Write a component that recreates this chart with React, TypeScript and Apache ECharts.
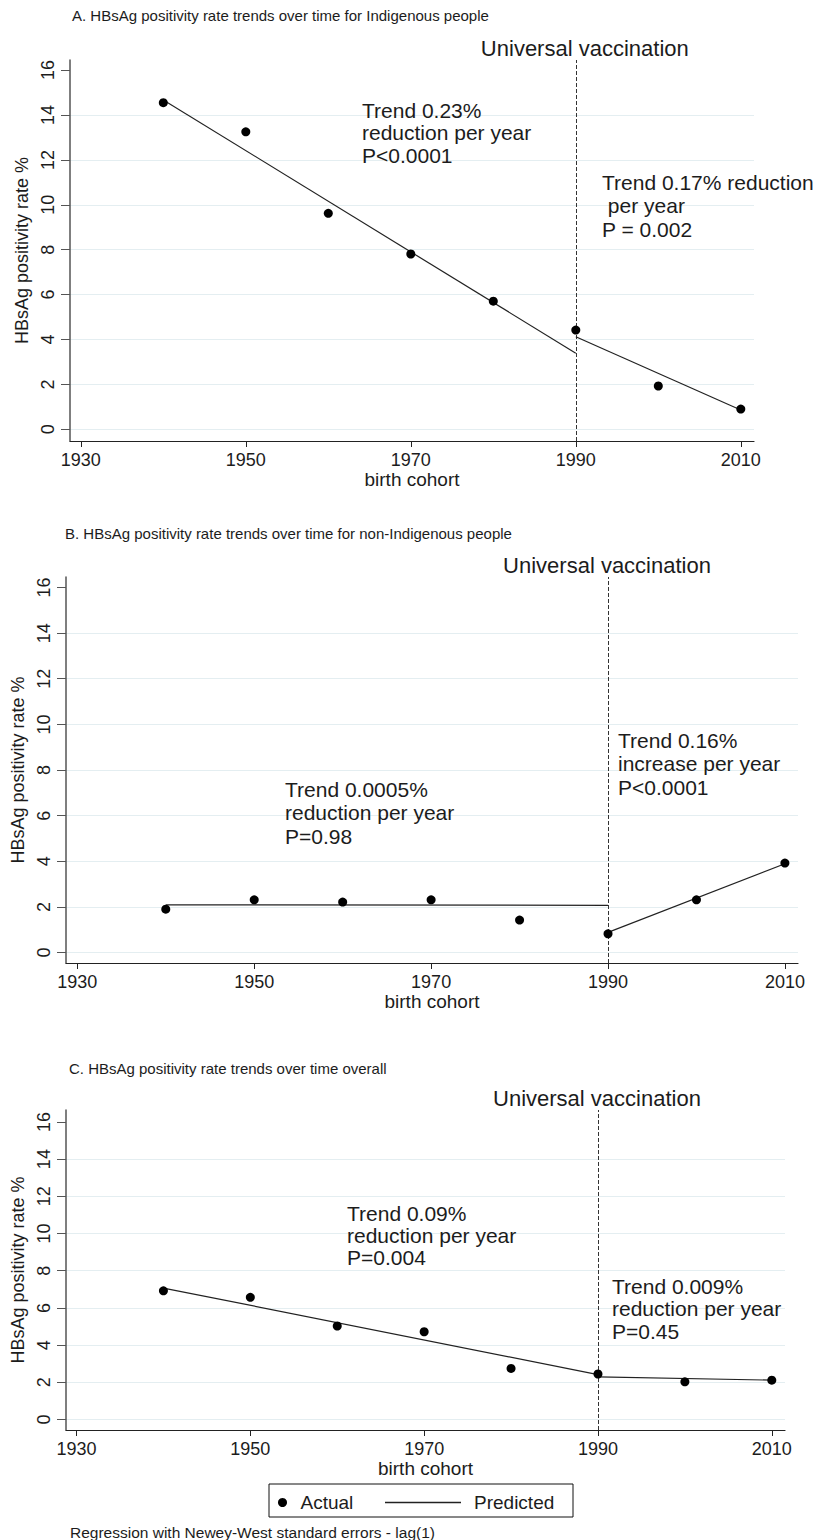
import React, { useEffect, useRef } from "react";
import * as echarts from "echarts";

const FONT = '"Liberation Sans", Arial, sans-serif';
const INK = "#1c1c1c";

// ---------- data ----------
const cohorts = [1940, 1950, 1960, 1970, 1980, 1990, 2000, 2010];
const preYears = [1940, 1990];
const postYears = [1990, 2010];
const vaccinationYear = 1990;
const xTickYears = [1930, 1950, 1970, 1990, 2010];
const yTickValues = [0, 2, 4, 6, 8, 10, 12, 14, 16];
const gridValues = [0, 2, 4, 6, 8, 10, 12, 14];

const actualA = [14.55, 13.25, 9.62, 7.81, 5.71, 4.42, 1.93, 0.9];
const predPreA = [14.67, 3.39];
const predPostA = [4.12, 0.86];

const actualB = [1.9, 2.31, 2.21, 2.31, 1.42, 0.82, 2.31, 3.92];
const predPreB = [2.09, 2.07];
const predPostB = [0.88, 3.89];

const actualC = [6.92, 6.57, 5.03, 4.72, 2.75, 2.45, 2.03, 2.12];
const predPreC = [7.07, 2.42];
const predPostC = [2.3, 2.12];

const panelTitles = [
  "A. HBsAg positivity rate trends over time for Indigenous people",
  "B. HBsAg positivity rate trends over time for non-Indigenous people",
  "C. HBsAg positivity rate trends over time overall",
];
const annotationsA = ["Trend 0.23%\nreduction per year\nP<0.0001", "Trend 0.17% reduction\n per year\nP = 0.002"];
const annotationsB = ["Trend 0.0005%\nreduction per year\nP=0.98", "Trend 0.16%\nincrease per year\nP<0.0001"];
const annotationsC = ["Trend 0.09%\nreduction per year\nP=0.004", "Trend 0.009%\nreduction per year\nP=0.45"];
const vaccinationLabel = "Universal vaccination";
const xAxisTitle = "birth cohort";
const yAxisTitle = "HBsAg positivity rate %";
const legendActual = "Actual";
const legendPredicted = "Predicted";
const footnote = "Regression with Newey-West standard errors - lag(1)";

// ---------- layout ----------
const panels = [
  {
    actual: actualA, pre: predPreA, post: predPostA, notes: annotationsA, title: panelTitles[0],
    left: 70, top: 60, width: 684, height: 381,
    xMin: 1928.69, xMax: 2011.6, yMin: -0.52, yMax: 16.45,
    titleX: 72, titleY: 15, vacOffset: 9,
    notePos: [ { x: 362, y: 98.75, lh: 22.5 }, { x: 602, y: 170.5, lh: 23.5 } ],
  },
  {
    actual: actualB, pre: predPreB, post: predPostB, notes: annotationsB, title: panelTitles[1],
    left: 66, top: 577, width: 732, height: 386,
    xMin: 1928.72, xMax: 2011.48, yMin: -0.46, yMax: 16.46,
    titleX: 65, titleY: 533, vacOffset: -1,
    notePos: [ { x: 285, y: 777.25, lh: 23.5 }, { x: 618, y: 728.5, lh: 23.5 } ],
  },
  {
    actual: actualC, pre: predPreC, post: predPostC, notes: annotationsC, title: panelTitles[2],
    left: 66, top: 1110, width: 719, height: 320,
    xMin: 1928.79, xMax: 2011.52, yMin: -0.56, yMax: 16.64,
    titleX: 69, titleY: 1068.5, vacOffset: -1,
    notePos: [ { x: 347, y: 1202, lh: 22 }, { x: 612, y: 1275, lh: 22.5 } ],
  },
];

function buildOption(): echarts.EChartsOption {
  const grid: any[] = [];
  const xAxis: any[] = [];
  const yAxis: any[] = [];
  const series: any[] = [];
  const graphic: any[] = [];

  panels.forEach((p, i) => {
    grid.push({ left: p.left, top: p.top, width: p.width, height: p.height, containLabel: false });
    xAxis.push({
      type: "value",
      gridIndex: i,
      min: p.xMin,
      max: p.xMax,
      axisLine: { show: true, onZero: false, lineStyle: { color: "#222", width: 1.2 } },
      axisTick: { show: true, customValues: xTickYears, length: 6, lineStyle: { color: "#222" } },
      axisLabel: {
        customValues: xTickYears,
        formatter: (v: number) => String(Math.round(v)),
        fontSize: 18,
        fontFamily: FONT,
        color: INK,
        margin: 10,
      },
      splitLine: { show: false },
      name: xAxisTitle,
      nameLocation: "middle",
      nameGap: 26,
      nameTextStyle: { fontSize: 19, fontFamily: FONT, color: INK },
    });
    yAxis.push({
      type: "value",
      gridIndex: i,
      min: p.yMin,
      max: p.yMax,
      axisLine: { show: true, onZero: false, lineStyle: { color: "#555", width: 1.5 } },
      axisTick: { show: true, customValues: yTickValues, length: 9, lineStyle: { color: "#555" } },
      axisLabel: {
        customValues: yTickValues,
        formatter: (v: number) => String(Math.round(v)),
        rotate: 90,
        fontSize: 18,
        fontFamily: FONT,
        color: INK,
        margin: 13,
      },
      splitLine: { show: false },
      name: yAxisTitle,
      nameLocation: "middle",
      nameGap: 36,
      nameTextStyle: { fontSize: 18, fontFamily: FONT, color: INK },
    });

    // faint horizontal grid lines (drawn underneath everything)
    series.push({
      type: "line",
      name: "grid" + i,
      xAxisIndex: i,
      yAxisIndex: i,
      data: [],
      silent: true,
      z: 0,
      markLine: {
        z: 0,
        silent: true,
        symbol: ["none", "none"],
        label: { show: false },
        lineStyle: { color: "#e4eef1", width: 1, type: "solid" },
        data: gridValues.map((v) => ({ yAxis: v })),
      },
    });
    // vaccination line
    series.push({
      type: "line",
      name: "vac" + i,
      xAxisIndex: i,
      yAxisIndex: i,
      data: [],
      silent: true,
      z: 2,
      markLine: {
        z: 2,
        silent: true,
        symbol: ["none", "none"],
        lineStyle: { color: "#333", width: 1, type: [4, 2] },
        label: {
          show: true,
          position: "end",
          formatter: vaccinationLabel,
          fontSize: 22,
          fontFamily: FONT,
          color: INK,
          distance: 1,
          offset: [p.vacOffset, 0],
        },
        data: [{ xAxis: vaccinationYear }],
      },
    });
    series.push({
      type: "line",
      name: legendPredicted,
      xAxisIndex: i,
      yAxisIndex: i,
      data: preYears.map((y, j) => [y, p.pre[j]]),
      showSymbol: false,
      symbol: "none",
      color: "#222",
      lineStyle: { color: "#222", width: 1.2 },
      z: 3,
    });
    series.push({
      type: "line",
      name: legendPredicted,
      xAxisIndex: i,
      yAxisIndex: i,
      data: postYears.map((y, j) => [y, p.post[j]]),
      showSymbol: false,
      symbol: "none",
      color: "#222",
      lineStyle: { color: "#222", width: 1.2 },
      z: 3,
    });
    series.push({
      type: "scatter",
      name: legendActual,
      xAxisIndex: i,
      yAxisIndex: i,
      data: cohorts.map((c, j) => [c, p.actual[j]]),
      symbol: "circle",
      symbolSize: 9,
      color: "#000",
      itemStyle: { color: "#000", opacity: 1 },
      z: 4,
    });

    graphic.push({
      type: "text",
      x: p.titleX,
      y: p.titleY,
      z: 100,
      style: { text: p.title, fontSize: 15, fontFamily: FONT, fill: INK, verticalAlign: "middle" },
    });
    p.notes.forEach((t, k) => {
      const pos = p.notePos[k];
      graphic.push({
        type: "text",
        x: pos.x,
        y: pos.y,
        z: 100,
        style: { text: t, fontSize: 21, fontFamily: FONT, fill: INK, lineHeight: pos.lh, verticalAlign: "top" },
      });
    });
  });

  // legend frame + footnote
  graphic.push({
    type: "rect",
    z: 100,
    shape: { x: 269, y: 1484, width: 304, height: 33 },
    style: { fill: "none", stroke: "#111", lineWidth: 1 },
  });
  graphic.push({
    type: "text",
    x: 70,
    y: 1532,
    z: 100,
    style: { text: footnote, fontSize: 15.5, fontFamily: FONT, fill: INK, verticalAlign: "middle" },
  });

  return {
    animation: false,
    backgroundColor: "#ffffff",
    grid,
    xAxis,
    yAxis,
    series,
    graphic,
    legend: [
      {
        data: [{ name: legendActual, icon: "circle" }],
        left: 273,
        top: 1488,
        itemWidth: 26,
        itemHeight: 9,
        selectedMode: false,
        itemStyle: { color: "#000" },
        textStyle: { fontSize: 19, fontFamily: FONT, color: INK },
      },
      {
        data: [{ name: legendPredicted, icon: "rect" }],
        left: 380,
        top: 1488,
        itemWidth: 76,
        itemHeight: 1.5,
        selectedMode: false,
        textStyle: { fontSize: 19, fontFamily: FONT, color: INK, padding: [0, 0, 0, 8] },
      },
    ],
  } as any;
}

export default function App() {
  const ref = useRef<HTMLDivElement>(null);
  useEffect(() => {
    document.body.style.margin = "0";
    if (!ref.current) return;
    const chart = echarts.init(ref.current, undefined, { renderer: "svg" });
    chart.setOption(buildOption());
    return () => chart.dispose();
  }, []);
  return <div ref={ref} style={{ width: 824, height: 1540, background: "#fff" }} />;
}
